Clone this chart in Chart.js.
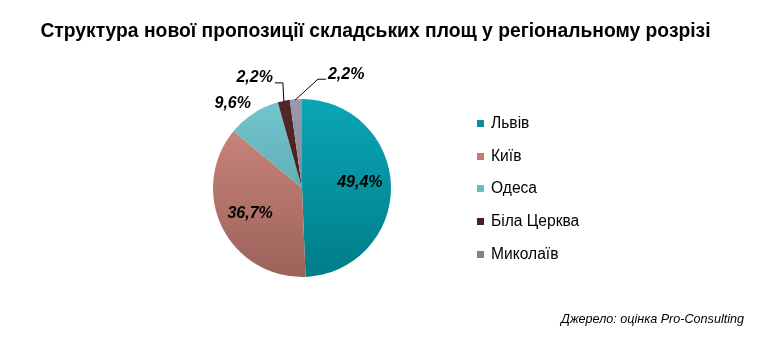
<!DOCTYPE html>
<html>
<head>
<meta charset="utf-8">
<script src="https://cdn.jsdelivr.net/npm/chart.js@4.4.0/dist/chart.umd.min.js"></script>
<style>
  html, body { margin: 0; padding: 0; background: #fff; }
  #wrap { position: relative; width: 773px; height: 343px; font-family: "Liberation Sans", Arial, sans-serif; }
  #pie { position: absolute; left: 0; top: 0; }
  #title { position: absolute; left: 0; top: 20px; width: 751px; text-align: center; font-weight: bold; font-size: 19.3px; color: #000; }
  #legend { position: absolute; left: 477px; top: 0; }
  .item { position: absolute; left: 0; white-space: nowrap; font-size: 15.6px; color: #000; }
  .item span.box { display: inline-block; width: 7px; height: 7px; margin-right: 7px; vertical-align: 1px; }
  #source { position: absolute; right: 29px; top: 312px; font-style: italic; font-size: 12.6px; color: #000; }
</style>
</head>
<body>
<div id="wrap">
  <canvas id="pie" width="773" height="343"></canvas>
  <div id="title">Структура нової пропозиції складських площ у регіональному розрізі</div>
  <div id="legend"></div>
  <div id="source">Джерело: оцінка Pro-Consulting</div>
</div>
<script>
// regions and their share of new supply, %
const regions = ["Львів", "Київ", "Одеса", "Біла Церква", "Миколаїв"];
const shares = [49.4, 36.7, 9.6, 2.2, 2.2];
const shareLabels = ["49,4%", "36,7%", "9,6%", "2,2%", "2,2%"];

// light (top) and dark (bottom) shade of each slice, plus legend swatch
const topColors = ["#0aa6b6", "#d08a80", "#74c6ce", "#552828", "#9a9aac"];
const bottomColors = ["#007d88", "#9c625a", "#4c98a0", "#3a1616", "#74748a"];
const swatchColors = ["#088f9c", "#c27a72", "#6abcc4", "#4a2020", "#80809a"];

// legend built from the same arrays
const legend = document.getElementById("legend");
regions.forEach((name, i) => {
    const row = document.createElement("div");
    row.className = "item";
    row.style.top = (114 + i * 32.7) + "px";
    row.innerHTML = `<span class="box" style="background:${swatchColors[i]}"></span>${name}`;
    legend.appendChild(row);
});

// where each label goes relative to its slice: factor of radius, nudges, leader line for tiny ones
const labelPlacement = [
    { r: 0.65, dx: 0, dy: -4 },
    { r: 0.65, dx: 0, dy: 0 },
    { r: 1.05, dx: 0, dy: -6, align: "right" },
    { leader: true, side: -1 },
    { leader: true, side: 1 }
];

const pieLabels = {
    id: "pieLabels",
    afterDatasetsDraw(chart) {
        const ctx = chart.ctx;
        const arcs = chart.getDatasetMeta(0).data;
        ctx.save();
        ctx.font = "italic bold 16px 'Liberation Sans', Arial, sans-serif";
        ctx.fillStyle = "#000";
        ctx.textBaseline = "middle";
        arcs.forEach((arc, i) => {
            const p = labelPlacement[i];
            const mid = (arc.startAngle + arc.endAngle) / 2;
            const cx = arc.x, cy = arc.y, R = arc.outerRadius;
            if (!p.leader) {
                ctx.textAlign = p.align || "center";
                ctx.fillText(shareLabels[i],
                    cx + Math.cos(mid) * R * p.r + p.dx,
                    cy + Math.sin(mid) * R * p.r + p.dy);
                return;
            }
            // small slices: leader line out of the top edge
            const ex = cx + Math.cos(mid) * (R - 1), ey = cy + Math.sin(mid) * (R - 1);
            ctx.strokeStyle = "#000";
            ctx.lineWidth = 1;
            ctx.beginPath();
            if (p.side < 0) {
                const ky = ey - 19;
                ctx.moveTo(ex, ey);
                ctx.lineTo(ex - 1, ky);
                ctx.lineTo(ex - 9, ky);
                ctx.stroke();
                ctx.textAlign = "right";
                ctx.fillText(shareLabels[i], ex - 11, ky - 5);
            } else {
                const kx = ex + 22, ky = ey - 21;
                ctx.moveTo(ex - 1, ey);
                ctx.lineTo(kx, ky);
                ctx.lineTo(kx + 8, ky);
                ctx.stroke();
                ctx.textAlign = "left";
                ctx.fillText(shareLabels[i], kx + 10, ky - 5);
            }
        });
        ctx.restore();
    }
};

function sliceFill(context) {
    const i = context.dataIndex;
    const area = context.chart.chartArea;
    if (!area) return topColors[i];
    const g = context.chart.ctx.createLinearGradient(0, area.top, 0, area.bottom);
    g.addColorStop(0, topColors[i]);
    g.addColorStop(1, bottomColors[i]);
    return g;
}

new Chart(document.getElementById("pie"), {
    type: "pie",
    data: {
        labels: regions,
        datasets: [{
            data: shares,
            backgroundColor: sliceFill,
            borderWidth: 0
        }]
    },
    options: {
        responsive: false,
        animation: false,
        layout: { padding: { left: 213, right: 382, top: 99, bottom: 66 } },
        plugins: {
            legend: { display: false },
            tooltip: { enabled: false }
        }
    },
    plugins: [pieLabels]
});
</script>
</body>
</html>
